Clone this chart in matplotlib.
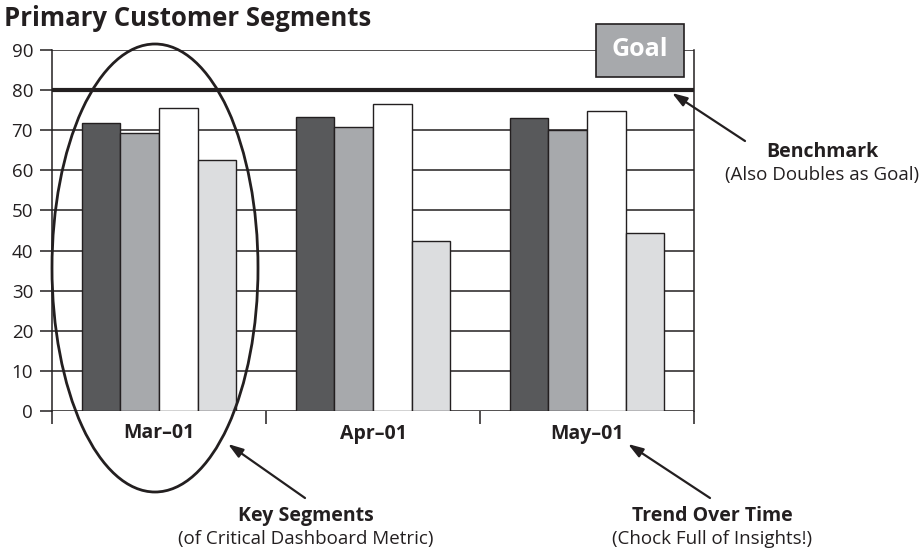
import numpy as np
import matplotlib.pyplot as plt
from matplotlib.patches import Ellipse, Rectangle

plt.rcParams['font.family'] = ['Open Sans', 'DejaVu Sans']

months = ["Mar\u201301", "Apr\u201301", "May\u201301"]
seg1 = [71.7, 73.2, 73.0]
seg2 = [69.2, 70.8, 70.0]
seg3 = [75.6, 76.5, 74.7]
seg4 = [62.7, 42.3, 44.3]
benchmark = 80
yticks = [0, 10, 20, 30, 40, 50, 60, 70, 80, 90]

W, H = 921, 549


def fp(x, y):
    # pixel position -> figure fraction
    return (x / W, 1 - y / H)


fig = plt.figure(figsize=(W / 100, H / 100), dpi=100)
ax = fig.add_axes([52 / W, 1 - 411 / H, (694 - 52) / W, (411 - 50) / H])

ink = "#231f20"
colors = ["#58595b", "#a7a9ac", "#ffffff", "#dcdddf"]
x = np.arange(len(months))
bw = 0.18
for i, (vals, c) in enumerate(zip([seg1, seg2, seg3, seg4], colors)):
    ax.bar(x + (i - 1.5) * bw, vals, width=bw, color=c, edgecolor=ink,
           linewidth=1.0, zorder=3)

ax.set_xlim(-0.5, 2.5)
ax.set_ylim(0, 90)
ax.set_yticks(yticks)
ax.yaxis.grid(True, color=ink, linewidth=1.1, zorder=0)
ax.set_axisbelow(True)
ax.axhline(benchmark, color=ink, linewidth=3, zorder=4)

for s in ["top", "bottom"]:
    ax.spines[s].set_visible(False)
for s in ["left", "right"]:
    ax.spines[s].set_color(ink)
    ax.spines[s].set_linewidth(1.1)

ax.tick_params(axis="y", direction="out", length=8.6, width=1.1, color=ink,
               labelsize=13.5, pad=5, labelcolor=ink)
ax.set_xticks(x)
ax.set_xticklabels(months, fontweight="bold", fontsize=14, color=ink)
ax.set_xticks([-0.5, 0.5, 1.5, 2.5], minor=True)
ax.tick_params(axis="x", which="major", length=0, pad=9)
ax.tick_params(axis="x", which="minor", direction="out", length=9.5,
               width=1.1, color=ink)

fig.text(*fp(4, 18), "Primary Customer Segments", fontsize=18.5,
         fontweight="bold", color=ink, va="center", ha="left")

# Goal box
fig.patches.append(Rectangle(fp(596, 77), 88 / W, 53 / H,
                             transform=fig.transFigure, facecolor="#a7a9ac",
                             edgecolor=ink, linewidth=1.2, zorder=5))
fig.text(*fp(640, 50), "Goal", fontsize=18, fontweight="bold",
         color="white", ha="center", va="center", zorder=6)

# Ellipse around first group
fig.patches.append(Ellipse(fp(155, 268), 206 / W, 448 / H,
                           transform=fig.transFigure, fill=False,
                           edgecolor=ink, linewidth=2, zorder=6))

arrow = dict(arrowstyle="-|>,head_length=0.9,head_width=0.3", color=ink,
             lw=1.6, shrinkA=0, shrinkB=0)
ax.annotate("", xy=fp(672, 93), xytext=fp(745, 141),
            xycoords="figure fraction", textcoords="figure fraction",
            arrowprops=arrow)
ax.annotate("", xy=fp(228, 444), xytext=fp(305, 498),
            xycoords="figure fraction", textcoords="figure fraction",
            arrowprops=arrow)
ax.annotate("", xy=fp(628, 444), xytext=fp(710, 498),
            xycoords="figure fraction", textcoords="figure fraction",
            arrowprops=arrow)

notes = [
    (822, 152, 175, "Benchmark", "(Also Doubles as Goal)"),
    (306, 516, 539, "Key Segments", "(of Critical Dashboard Metric)"),
    (712, 516, 539, "Trend Over Time", "(Chock Full of Insights!)"),
]
for nx, y1, y2, head, sub in notes:
    fig.text(*fp(nx, y1), head, fontsize=14, fontweight="bold",
             color=ink, ha="center", va="center")
    fig.text(*fp(nx, y2), sub, fontsize=13.5, color=ink,
             ha="center", va="center")

fig.savefig("out.png", dpi=100)
